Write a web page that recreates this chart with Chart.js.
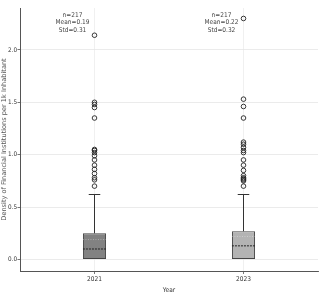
<!DOCTYPE html>
<html lang="en">
<head>
  <meta charset="UTF-8" />
  <title>Density of Financial Institutions</title>
  <script src="https://cdn.jsdelivr.net/npm/chart.js"></script>
  <style>
    html, body { margin: 0; padding: 0; background: #fff; }
    #wrap { width: 323px; height: 298px; }
  </style>
</head>
<body>
  <div id="wrap"><canvas id="boxChart" width="323" height="298"></canvas></div>
  <script>
    const years = ['2021', '2023'];
    const q1 = [0.0, 0.0];
    const q3 = [0.25, 0.27];
    const medians = [0.10, 0.13];
    const means = [0.19, 0.22];
    const whiskerHigh = [0.62, 0.62];
    const stats = [['n=217', 'Mean=0.19', 'Std=0.31'], ['n=217', 'Mean=0.22', 'Std=0.32']];
    const outliers2021 = [0.70, 0.76, 0.78, 0.82, 0.86, 0.90, 0.95, 0.99, 1.02, 1.04, 1.05, 1.35, 1.45, 1.48, 1.50, 2.14];
    const outliers2023 = [0.70, 0.75, 0.76, 0.77, 0.78, 0.80, 0.85, 0.90, 0.95, 1.02, 1.04, 1.07, 1.10, 1.12, 1.35, 1.46, 1.53, 2.30];
    const yTicks = [0.0, 0.5, 1.0, 1.5, 2.0];
    const yTitle = 'Density of Financial Institutions per 1k Inhabitant';

    const narrow = '"Liberation Sans Narrow", "DejaVu Sans Condensed", sans-serif';

    const outlierPoints = [
      ...outliers2021.map(v => ({ x: years[0], y: v })),
      ...outliers2023.map(v => ({ x: years[1], y: v }))
    ];

    // whiskers, median/mean lines, stats text and the y title
    const boxExtras = {
      id: 'boxExtras',
      afterDatasetsDraw(chart) {
        const { ctx, scales: { x, y }, chartArea } = chart;
        const meta = chart.getDatasetMeta(0);
        ctx.save();
        years.forEach((yr, i) => {
          const cx = x.getPixelForValue(i);
          const half = meta.data[i].width / 2;
          ctx.strokeStyle = '#333';
          ctx.lineWidth = 1;
          ctx.setLineDash([]);
          ctx.beginPath();
          ctx.moveTo(cx, y.getPixelForValue(q3[i]));
          ctx.lineTo(cx, y.getPixelForValue(whiskerHigh[i]));
          ctx.moveTo(cx - half / 2, y.getPixelForValue(whiskerHigh[i]));
          ctx.lineTo(cx + half / 2, y.getPixelForValue(whiskerHigh[i]));
          ctx.stroke();
          ctx.strokeStyle = 'rgba(255,255,255,0.35)';
          ctx.setLineDash([1, 1.5]);
          ctx.beginPath();
          ctx.moveTo(cx - half, y.getPixelForValue(means[i]));
          ctx.lineTo(cx + half, y.getPixelForValue(means[i]));
          ctx.stroke();
          ctx.strokeStyle = '#222';
          ctx.setLineDash([2, 1]);
          ctx.beginPath();
          ctx.moveTo(cx - half, y.getPixelForValue(medians[i]));
          ctx.lineTo(cx + half, y.getPixelForValue(medians[i]));
          ctx.stroke();
          ctx.setLineDash([]);
          ctx.fillStyle = '#444';
          ctx.font = '6.5px ' + narrow;
          ctx.textAlign = 'center';
          ctx.textBaseline = 'top';
          stats[i].forEach((t, k) => ctx.fillText(t, cx - 22, 12 + k * 7.5));
        });
        ctx.fillStyle = '#555';
        ctx.font = '6.6px "DejaVu Sans", sans-serif';
        ctx.translate(4.5, (chartArea.top + chartArea.bottom) / 2);
        ctx.rotate(-Math.PI / 2);
        ctx.textAlign = 'center';
        ctx.textBaseline = 'middle';
        ctx.fillText(yTitle, 0, 0);
        ctx.restore();
      }
    };

    new Chart(document.getElementById('boxChart'), {
      type: 'bar',
      data: {
        labels: years,
        datasets: [
          {
            type: 'bar',
            data: years.map((_, i) => [q1[i], q3[i]]),
            backgroundColor: ['#828282', '#b3b3b3'],
            borderColor: '#444',
            borderWidth: 1,
            borderSkipped: false,
            barPercentage: 0.155,
            categoryPercentage: 1.0,
            order: 2
          },
          {
            type: 'scatter',
            data: outlierPoints,
            pointStyle: 'circle',
            pointRadius: 2.3,
            pointBorderWidth: 0.9,
            pointBorderColor: '#222',
            pointBackgroundColor: 'rgba(0,0,0,0)',
            showLine: false,
            order: 1
          }
        ]
      },
      options: {
        responsive: false,
        animation: false,
        layout: { padding: { top: 8, right: 5, left: 0, bottom: 0 } },
        plugins: { legend: { display: false }, tooltip: { enabled: false } },
        scales: {
          x: {
            type: 'category',
            offset: true,
            grid: { offset: false, color: '#ececec', lineWidth: 0.8, drawTicks: true, tickLength: 3, tickColor: '#555' },
            border: { color: '#555', width: 1 },
            ticks: { color: '#333', font: { family: narrow, size: 6.5 }, padding: 1 },
            title: { display: true, text: 'Year', color: '#333', font: { family: narrow, size: 6.5 }, padding: { top: 2 } },
            afterFit: s => { s.height = 27; }
          },
          y: {
            min: -0.11,
            max: 2.4,
            afterBuildTicks: s => { s.ticks = yTicks.map(v => ({ value: v })); },
            grid: { color: '#e6e6e6', lineWidth: 0.8, tickLength: 2.5, tickColor: '#555' },
            border: { color: '#555', width: 1 },
            ticks: { color: '#333', font: { family: narrow, size: 6.3 }, padding: 0.5, callback: v => v.toFixed(1) },
            afterFit: s => { s.width = 20; }
          }
        }
      },
      plugins: [boxExtras]
    });
  </script>
</body>
</html>
